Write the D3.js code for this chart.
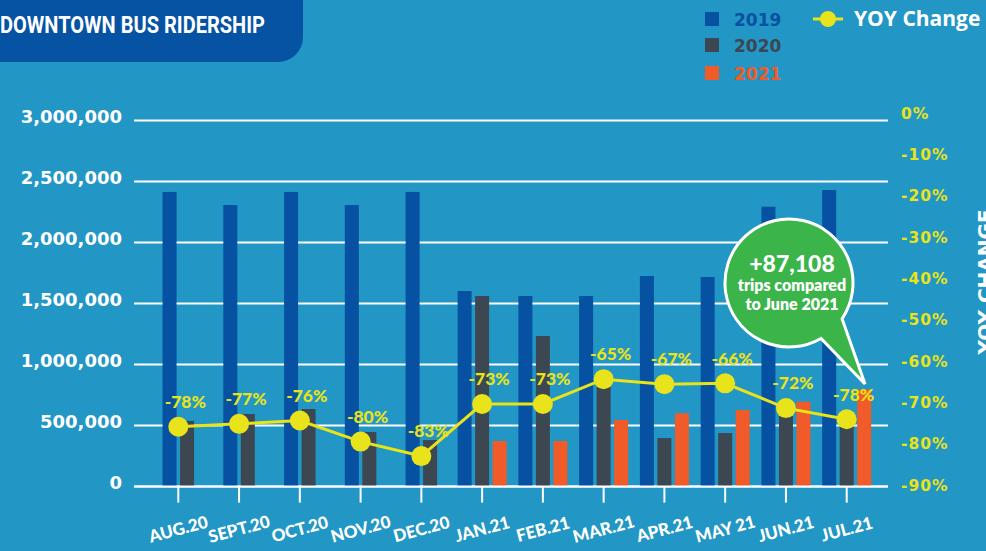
<html>
    <head>
        <script src="https://d3js.org/d3.v7.min.js"></script>
        <style>
            body { margin: 0; background: #2296c4; }
            svg { display: block; }
        </style>
    </head>
    <body>
        <svg id='chart' width='986' height='551'></svg>
        <script>
            // values
            const months = ['AUG.20','SEPT.20','OCT.20','NOV.20','DEC.20','JAN.21','FEB.21','MAR.21','APR.21','MAY 21','JUN.21','JUL.21'];
            const riders2019 = [2415000, 2308000, 2415000, 2308000, 2415000, 1603000, 1562000, 1562000, 1726000, 1718000, 2294000, 2431000];
            const riders2020 = [538000, 595000, 636000, 448000, 382000, 1562000, 1234000, 931000, 398000, 439000, 579000, 560000];
            const riders2021 = [null, null, null, null, null, 374000, 374000, 546000, 601000, 628000, 696000, 797000];
            const yoyPlotted = [-75.9, -75.2, -74.4, -79.5, -83.0, -70.4, -70.4, -64.4, -65.6, -65.4, -71.4, -74.1];
            const yoyLabels = ['-78%','-77%','-76%','-80%','-83%','-73%','-73%','-65%','-67%','-66%','-72%','-78%'];
            const leftTicks = [0, 500000, 1000000, 1500000, 2000000, 2500000, 3000000];
            const rightTicks = [0, -10, -20, -30, -40, -50, -60, -70, -80, -90];
            const years = ['2019', '2020', '2021'];
            const calloutLines = ['+87,108', 'trips compared', 'to June 2021'];

            const colors = {'2019': '#0651a2', '2020': '#3c4752', '2021': '#f15a29'};
            const yellow = '#e8e31a';

            const svg = d3.select('svg#chart');

            const x = d3.scalePoint().domain(months).range([178.3, 846.7]);
            const y = d3.scaleLinear().domain([0, 3000000]).range([486.6, 120.6]);
            const yPct = d3.scaleLinear().domain([-90, 0]).range([485, 113]);

            // title tab
            svg.append('rect')
                .attr('x', -30).attr('y', -30)
                .attr('width', 333).attr('height', 92)
                .attr('rx', 25)
                .attr('fill', '#0652a3');
            svg.append('text')
                .attr('x', 0).attr('y', 33)
                .attr('textLength', 265).attr('lengthAdjust', 'spacingAndGlyphs')
                .attr('fill', 'white')
                .style('font', '700 24px Roboto')
                .text('DOWNTOWN BUS RIDERSHIP');

            // gridlines
            svg.selectAll('line.grid').data(leftTicks)
                .join('line')
                .attr('class', 'grid')
                .attr('x1', 134).attr('x2', 888)
                .attr('y1', d => y(d)).attr('y2', d => y(d))
                .attr('stroke', 'white').attr('stroke-width', 2);

            // left axis labels
            svg.selectAll('text.left').data(leftTicks)
                .join('text')
                .attr('class', 'left')
                .attr('x', 122)
                .attr('y', d => y(d) - 4)
                .attr('dy', '0.36em')
                .attr('text-anchor', 'end')
                .attr('fill', 'white')
                .style('font', '700 18px "DejaVu Sans"')
                .text(d => d3.format(',')(d));

            // right axis labels
            svg.selectAll('text.right').data(rightTicks)
                .join('text')
                .attr('class', 'right')
                .attr('x', 901)
                .attr('y', d => yPct(d))
                .attr('dy', '0.36em')
                .attr('fill', yellow)
                .style('font', '700 15.5px "DejaVu Sans"')
                .style('letter-spacing', '1px')
                .text(d => d + '%');

            svg.append('text')
                .attr('transform', 'translate(992,282) rotate(-90)')
                .attr('text-anchor', 'middle')
                .attr('fill', 'white')
                .style('font', '700 20px "DejaVu Sans"')
                .text('YOY CHANGE');

            // bars
            const barW = 14, step = 17.5;
            const bars = [];
            months.forEach((m, i) => {
                const vals = [riders2019[i], riders2020[i], riders2021[i]];
                const present = years.filter((yr, k) => vals[k] != null);
                present.forEach((yr, k) => {
                    bars.push({m: m, year: yr, v: vals[years.indexOf(yr)],
                               off: (k - (present.length - 1) / 2) * step});
                });
            });
            svg.selectAll('rect.bar').data(bars)
                .join('rect')
                .attr('class', 'bar')
                .attr('x', d => x(d.m) + d.off - barW / 2)
                .attr('y', d => y(d.v))
                .attr('width', barW)
                .attr('height', d => y(0) - y(d.v))
                .attr('fill', d => colors[d.year]);

            // x axis
            svg.append('line')
                .attr('x1', 134).attr('x2', 888)
                .attr('y1', y(0)).attr('y2', y(0))
                .attr('stroke', 'white').attr('stroke-width', 2);
            svg.selectAll('line.tick').data(months)
                .join('line')
                .attr('class', 'tick')
                .attr('x1', d => x(d)).attr('x2', d => x(d))
                .attr('y1', y(0)).attr('y2', y(0) + 16)
                .attr('stroke', 'white').attr('stroke-width', 2);
            svg.selectAll('text.month').data(months)
                .join('text')
                .attr('class', 'month')
                .attr('transform', d => `translate(${x(d)},529) rotate(-15)`)
                .attr('dy', '0.36em')
                .attr('text-anchor', 'middle')
                .attr('fill', 'white')
                .style('font', '900 17px Lato')
                .text(d => d);

            // yoy line
            const pts = months.map((m, i) => ({m: m, v: yoyPlotted[i], label: yoyLabels[i]}));
            svg.append('path')
                .datum(pts)
                .attr('d', d3.line().x(d => x(d.m)).y(d => yPct(d.v)))
                .attr('fill', 'none')
                .attr('stroke', yellow)
                .attr('stroke-width', 3);
            svg.selectAll('circle.dot').data(pts)
                .join('circle')
                .attr('class', 'dot')
                .attr('cx', d => x(d.m))
                .attr('cy', d => yPct(d.v))
                .attr('r', 10)
                .attr('fill', yellow);
            svg.selectAll('text.yoy').data(pts)
                .join('text')
                .attr('class', 'yoy')
                .attr('x', d => x(d.m) + 7)
                .attr('y', d => yPct(d.v) - 25)
                .attr('dy', '0.36em')
                .attr('text-anchor', 'middle')
                .attr('fill', yellow)
                .style('font', '900 17.5px Lato')
                .text(d => d.label);

            // callout bubble
            const cx = 789, cy = 283, r = 64;
            const a1 = 34 * Math.PI / 180, a2 = 60 * Math.PI / 180;
            const bubble = d3.path();
            bubble.moveTo(cx + r * Math.cos(a1), cy + r * Math.sin(a1));
            bubble.arc(cx, cy, r, a1, a2, true);
            bubble.lineTo(865, 384);
            bubble.closePath();
            svg.append('path')
                .attr('d', bubble.toString())
                .attr('fill', '#3bb44a')
                .attr('stroke', 'white')
                .attr('stroke-width', 3)
                .attr('stroke-linejoin', 'miter');
            svg.selectAll('text.callout').data(calloutLines)
                .join('text')
                .attr('class', 'callout')
                .attr('x', 792)
                .attr('y', (d, i) => [272, 291, 310][i])
                .attr('text-anchor', 'middle')
                .attr('fill', 'white')
                .style('font', (d, i) => i === 0 ? '900 23px Lato' : '800 16px Lato')
                .text(d => d);

            // legend
            const legend = svg.selectAll('g.legend').data(years)
                .join('g')
                .attr('class', 'legend')
                .attr('transform', (d, i) => `translate(705,${[12, 38, 66][i]})`);
            legend.append('rect')
                .attr('width', 14).attr('height', 14)
                .attr('fill', d => colors[d]);
            legend.append('text')
                .attr('x', 29).attr('y', 14)
                .attr('fill', d => colors[d])
                .style('font', '700 17px "DejaVu Sans"')
                .text(d => d);

            svg.append('line')
                .attr('x1', 813).attr('x2', 843)
                .attr('y1', 19).attr('y2', 19)
                .attr('stroke', yellow).attr('stroke-width', 3);
            svg.append('circle')
                .attr('cx', 828).attr('cy', 19).attr('r', 8)
                .attr('fill', yellow);
            svg.append('text')
                .attr('x', 854).attr('y', 26)
                .attr('fill', 'white')
                .style('font', '700 21px "Open Sans"')
                .text('YOY Change');
        </script>
    </body>
</html>
